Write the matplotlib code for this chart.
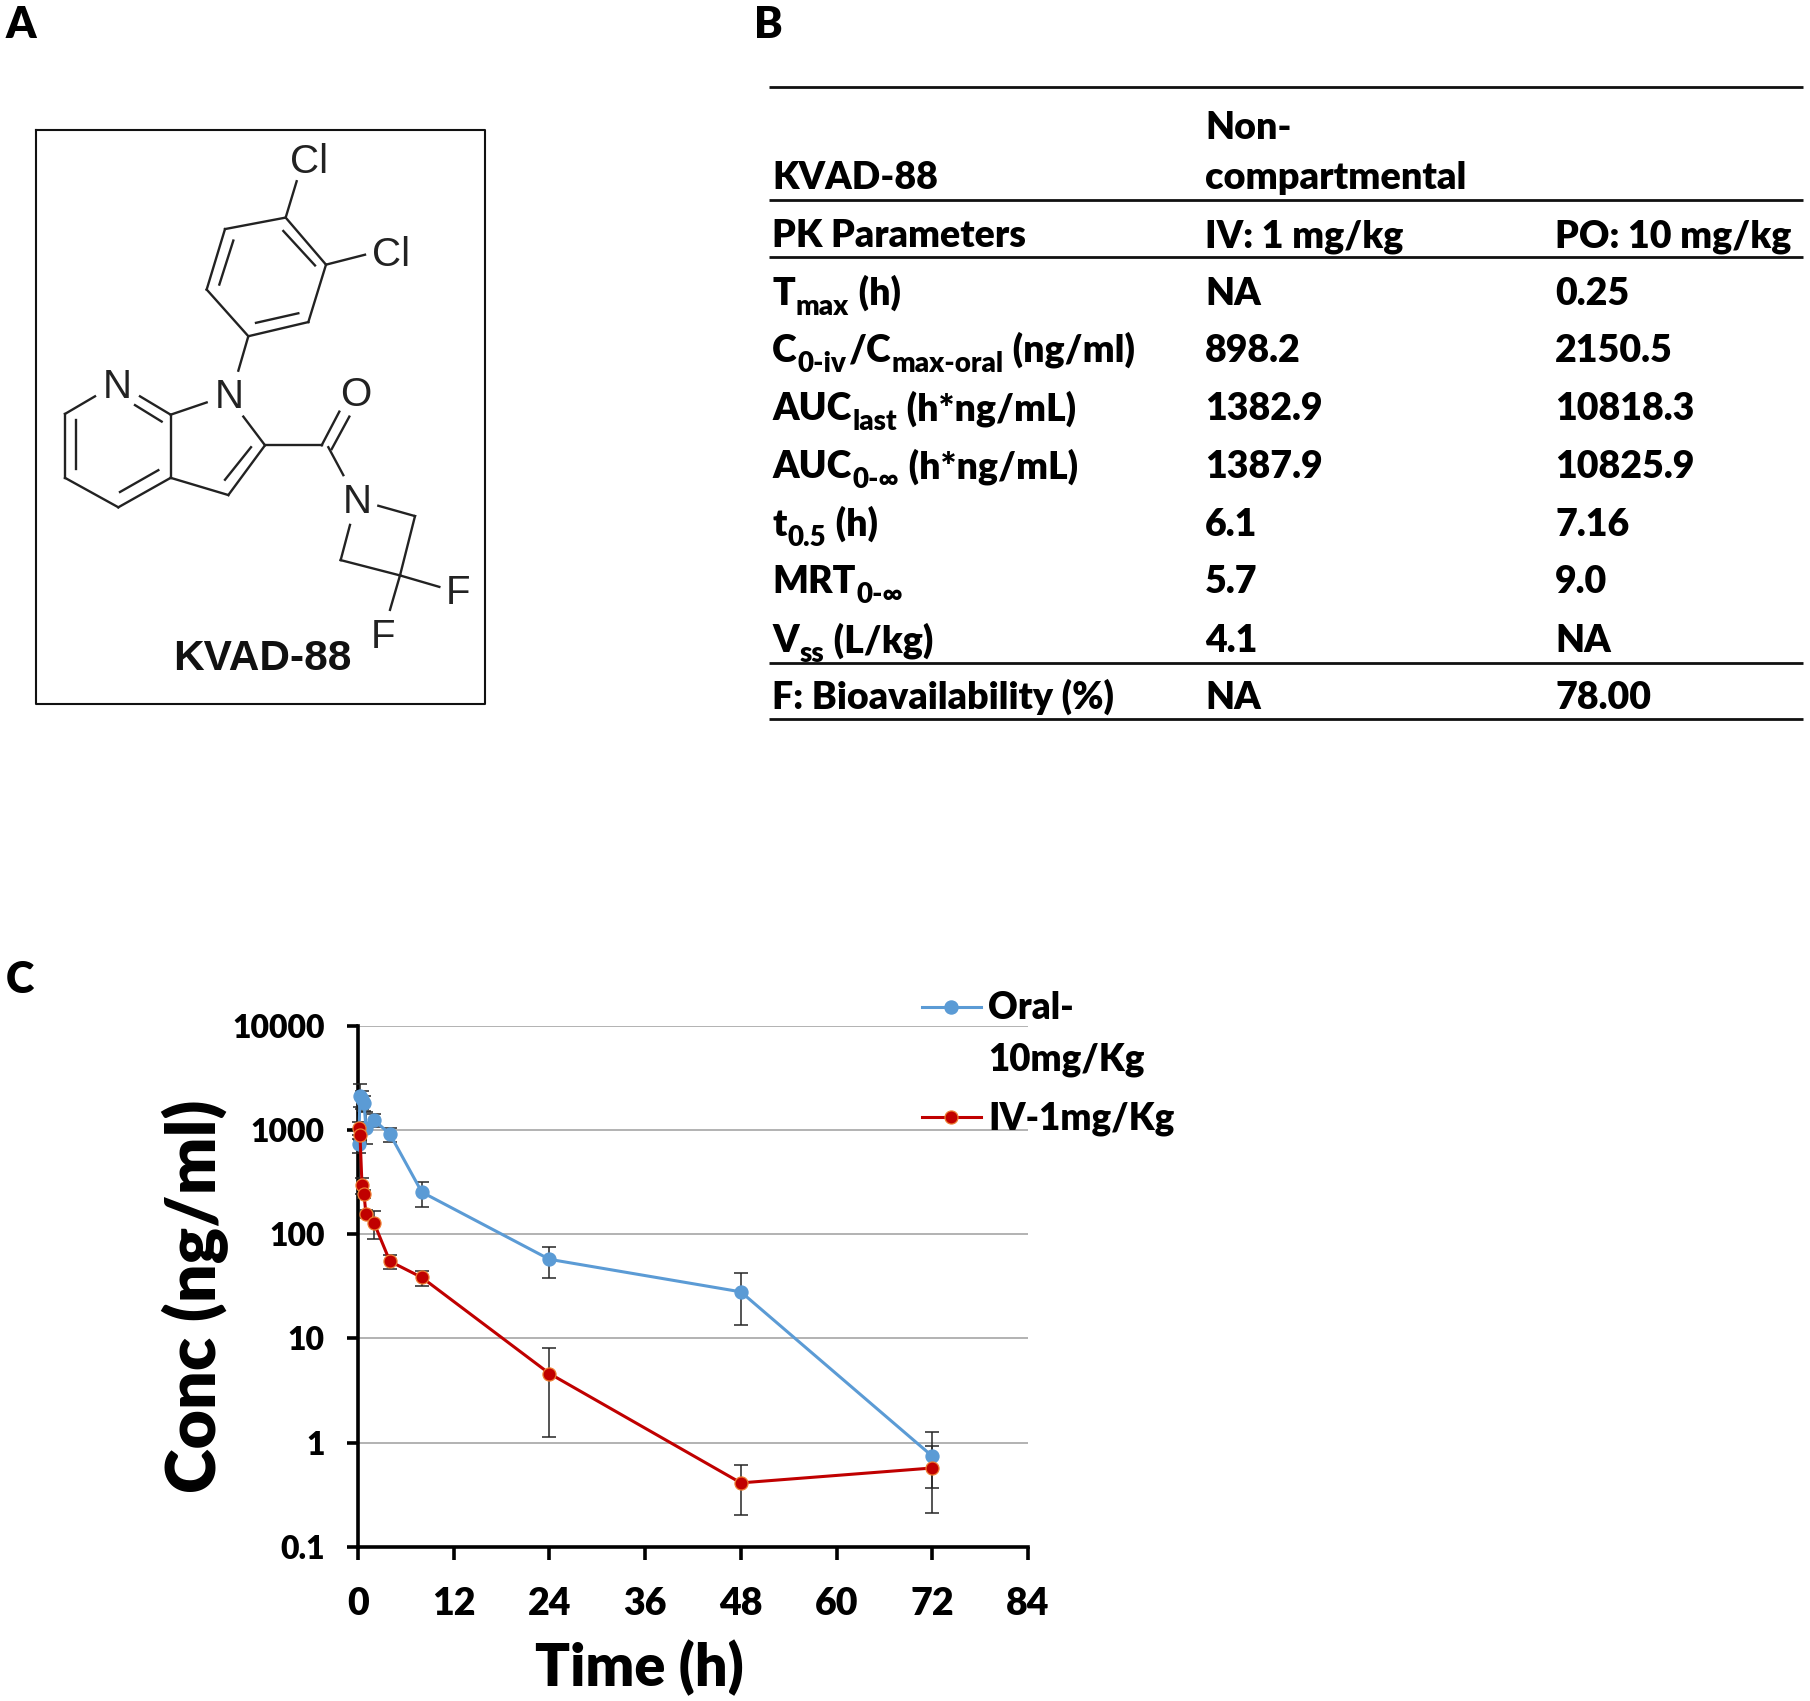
import numpy as np
import matplotlib
matplotlib.use('Agg')
import matplotlib.pyplot as plt

plt.rcParams['font.family'] = ['Lato', 'DejaVu Sans']
plt.rcParams['font.weight'] = 'heavy'

# PK curve data
oral_time = [0.083, 0.25, 0.5, 0.75, 1, 2, 4, 8, 24, 48, 72]
oral_conc = [731, 2150, 2000, 1830, 1050, 1250, 918, 254, 57.5, 28, 0.74]
oral_low = [600, 1650, 1600, 1540, 740, 1070, 770, 182, 38, 13.4, 0.37]
oral_high = [822, 2790, 2400, 2130, 1490, 1430, 1055, 319, 76, 42.7, 1.25]

iv_time = [0.083, 0.25, 0.5, 0.75, 1, 2, 4, 8, 24, 48, 72]
iv_conc = [1050, 898, 297, 243, 156, 129, 55, 38.5, 4.6, 0.41, 0.57]
iv_low = [900, 800, 245, 222, 142, 90.6, 46, 32, 1.12, 0.2, 0.213]
iv_high = [1200, 1000, 349, 265, 171, 167, 63, 44, 8.05, 0.61, 0.93]

x_ticks = [0, 12, 24, 36, 48, 60, 72, 84]
y_ticks = [0.1, 1, 10, 100, 1000, 10000]
y_labels = ['0.1', '1', '10', '100', '1000', '10000']

# table rows: each cell is a list of (text, is_subscript)
table_rows = [
    ([('PK Parameters', 0)], 'IV: 1 mg/kg', 'PO: 10 mg/kg'),
    ([('T', 0), ('max', 1), (' (h)', 0)], 'NA', '0.25'),
    ([('C', 0), ('0-iv', 1), ('/C', 0), ('max-oral', 1), (' (ng/ml)', 0)], '898.2', '2150.5'),
    ([('AUC', 0), ('last', 1), (' (h*ng/mL)', 0)], '1382.9', '10818.3'),
    ([('AUC', 0), ('0-∞', 1), (' (h*ng/mL)', 0)], '1387.9', '10825.9'),
    ([('t', 0), ('0.5', 1), (' (h)', 0)], '6.1', '7.16'),
    ([('MRT', 0), ('0-∞', 1)], '5.7', '9.0'),
    ([('V', 0), ('ss', 1), (' (L/kg)', 0)], '4.1', 'NA'),
    ([('F: Bioavailability (%)', 0)], 'NA', '78.00'),
]
row_base = [247, 305, 362, 420, 478, 536, 593, 652, 709]

# molecule drawing, in zoomed crop coordinates
bonds = [
    (797, 255, 918, 378), (790, 290, 885, 380), (918, 378, 865, 528), (865, 528, 685, 565),
    (835, 505, 708, 530), (685, 565, 560, 443), (560, 443, 615, 285), (598, 430, 640, 315),
    (615, 285, 797, 255), (797, 255, 830, 160), (918, 378, 1035, 352), (685, 565, 655, 655),
    (135, 768, 225, 722), (360, 722, 452, 770), (345, 745, 425, 788), (452, 770, 452, 935),
    (452, 935, 295, 1012), (415, 915, 300, 972), (295, 1012, 135, 935), (135, 935, 135, 768),
    (167, 785, 167, 912), (452, 770, 560, 738), (670, 775, 735, 850), (735, 850, 625, 980),
    (693, 855, 615, 940), (625, 980, 452, 935), (735, 850, 905, 850), (905, 850, 958, 762),
    (935, 860, 988, 775), (925, 855, 970, 928), (1075, 1008, 1185, 1035), (1185, 1035, 1140, 1190),
    (990, 1058, 962, 1150), (962, 1150, 1140, 1190), (1140, 1190, 1258, 1220), (1140, 1190, 1110, 1280),
]
atoms = [('Cl', 867, 110), ('Cl', 1112, 352), ('N', 627, 725), ('N', 292, 697),
         ('O', 1008, 719), ('N', 1012, 997), ('F', 1315, 1237), ('F', 1090, 1352)]


def mx(x):
    return 20 + x / 3


def my(y):
    return 120 + y / 2.613


fig = plt.figure(figsize=(18.10, 17.01), dpi=100)
W, H = 1810, 1701

# chart
ax = fig.add_axes([358 / W, 1 - 1546.7 / H, (1028 - 358) / W, (1546.7 - 1026) / H])
ax.set_yscale('log')
ax.set_xlim(0, 84)
ax.set_ylim(0.1, 10000)
ax.grid(True, axis='y', color='#a6a6a6', lw=1.2)
ax.set_axisbelow(True)
for s in ['top', 'right']:
    ax.spines[s].set_visible(False)
for s in ['left', 'bottom']:
    ax.spines[s].set_linewidth(2.6)

for t, c, lo, hi, col, edge in [(oral_time, oral_conc, oral_low, oral_high, '#5b9bd5', '#5b9bd5'),
                                (iv_time, iv_conc, iv_low, iv_high, '#c00000', '#ed7d31')]:
    c = np.array(c)
    err = [c - np.array(lo), np.array(hi) - c]
    ax.errorbar(t, c, yerr=err, fmt='none', ecolor='#262626', elinewidth=1.1,
                capsize=4.8, capthick=1.1, zorder=3, clip_on=False)
    ax.plot(t, c, '-o', color=col, lw=2.2, ms=9.4, mfc=col, mec=edge, mew=0.9, zorder=4, clip_on=False)

ax.set_xticks(x_ticks)
ax.set_yticks(y_ticks)
ax.set_yticklabels(y_labels)
ax.minorticks_off()
ax.tick_params(axis='x', length=9, width=2.6, labelsize=27, pad=20)
ax.tick_params(axis='y', length=8, width=2.6, labelsize=23, pad=16)

# overlay in pixel coordinates for panel letters, table, molecule and legend
ov = fig.add_axes([0, 0, 1, 1], zorder=5)
ov.set_xlim(0, W)
ov.set_ylim(H, 0)
ov.axis('off')

ov.text(195, 1296, 'Conc (ng/ml)', rotation=90, ha='center', va='center', fontsize=49)
ov.text(639, 1668, 'Time (h)', ha='center', va='center', fontsize=41.5)

for letter, x, y in [('A', 21, 25), ('B', 768, 25), ('C', 20, 980)]:
    ov.text(x, y, letter, ha='center', va='center', fontsize=31)

# legend
ov.plot([922, 981], [1007, 1007], color='#5b9bd5', lw=2.2)
ov.plot([951], [1007], 'o', color='#5b9bd5', ms=9.4)
ov.plot([922, 981], [1117, 1117], color='#c00000', lw=2.2)
ov.plot([951], [1117], 'o', color='#c00000', mec='#ed7d31', ms=9.4, mew=0.9)
ov.text(988, 1008, 'Oral-', va='center', fontsize=26.4)
ov.text(988, 1060, '10mg/Kg', va='center', fontsize=26.4)
ov.text(988, 1119, 'IV-1mg/Kg', va='center', fontsize=26.4)

# table
for y in [87, 200, 257, 663, 719]:
    ov.plot([769, 1803], [y, y], color='#111111', lw=2.0, solid_capstyle='butt')

TS = 27
ov.text(772, 189, 'KVAD-88', fontsize=TS, va='baseline')
ov.text(1205, 139, 'Non-', fontsize=TS, va='baseline')
ov.text(1205, 189, 'compartmental', fontsize=TS * 1.01, va='baseline')

renderer = fig.canvas.get_renderer()
for row, yb in zip(table_rows, row_base):
    x = 772
    for txt, sub in row[0]:
        if sub:
            t = ov.text(x, yb + 10, txt, fontsize=TS * 0.74, va='baseline')
        else:
            t = ov.text(x, yb, txt, fontsize=TS, va='baseline')
        t.set_parse_math(False)
        x = t.get_window_extent(renderer).x1 + 1
    ov.text(1205, yb, row[1], fontsize=TS, va='baseline')
    ov.text(1555, yb, row[2], fontsize=TS, va='baseline')

# molecule
ov.plot([36, 485, 485, 36, 36], [130, 130, 704, 704, 130], color='#111111', lw=1.5)
for x0, y0, x1, y1 in bonds:
    ov.plot([mx(x0), mx(x1)], [my(y0), my(y1)], color='#222222', lw=1.7)
for label, x, y in atoms:
    ov.text(mx(x), my(y), label, ha='center', va='center', fontsize=29, color='#222222',
            family='Liberation Sans', fontweight='normal')
ov.text(mx(727), my(1408), 'KVAD-88', ha='center', va='center', fontsize=30.5, color='#111111',
        family='Liberation Sans', fontweight='bold')

fig.savefig('out.png', dpi=100)
